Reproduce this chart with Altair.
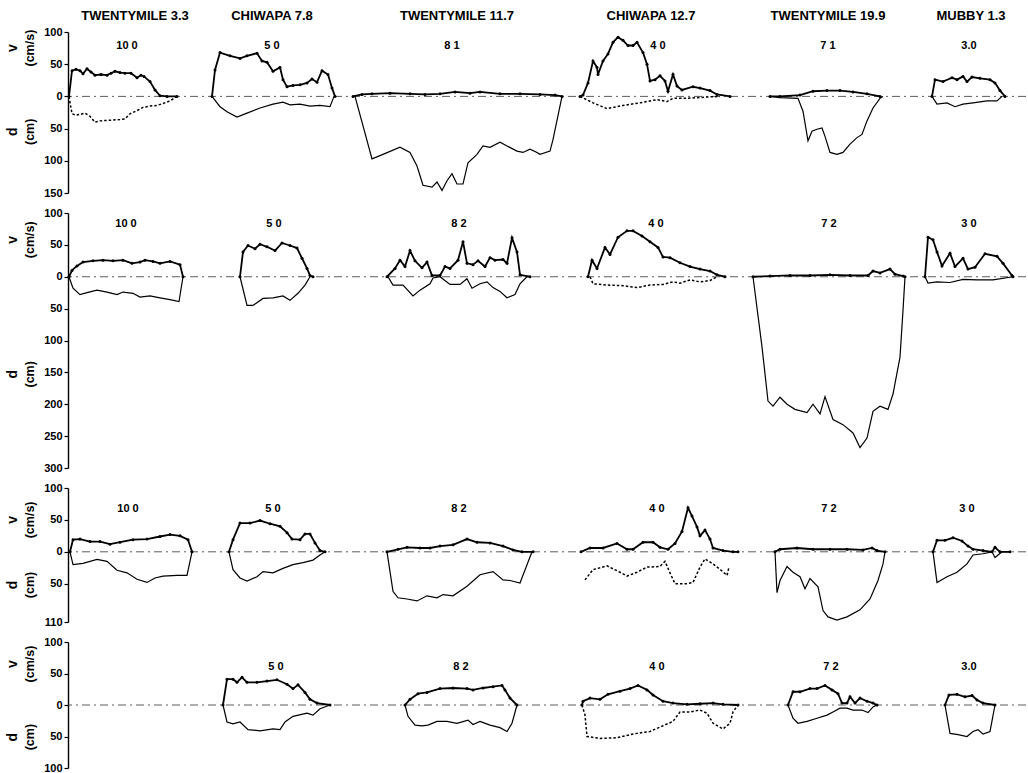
import altair as alt
import pandas as pd

# ---------------- data (x = distance across the figure, v in cm/s, d in cm) ----------------
COLUMN_TITLES = ["TWENTYMILE 3.3", "CHIWAPA 7.8", "TWENTYMILE 11.7", "CHIWAPA 12.7", "TWENTYMILE 19.9", "MUBBY 1.3"]
COLUMN_TITLE_X = [135, 272, 457, 651, 828, 971]

# Row 1
R1_TW33_V = [(69,0),(72,40),(76,42),(80,40),(83,35),(87,43),(91,38),(95,33),(101,34),(107,33),(111,36),(115,39),(120,37),(125,36),(131,36),(137,29),(141,33),(144,31),(150,23),(155,10),(160,1),(167,0),(177,0)]
R1_TW33_D = [(69,0),(72,27),(76,29),(80,28),(85,26),(90,31),(95,40),(100,38),(110,37),(120,36),(125,35),(130,27),(137,22),(143,17),(150,15),(157,14),(163,11),(170,7),(177,0)]
R1_CH78_V = [(212,0),(215,41),(220,68),(230,63),(240,59),(247,63),(257,67),(262,55),(267,53),(273,39),(280,45),(283,26),(287,15),(293,17),(300,18),(307,21),(312,27),(317,22),(322,40),(328,34),(332,13),(335,0)]
R1_CH78_D = [(212,0),(220,16),(227,24),(237,32),(247,26),(260,18),(273,12),(283,9),(290,13),(300,12),(310,15),(320,14),(330,16),(334,0)]
R1_TW117_V = [(353,0),(362,3),(372,4),(390,5),(410,4),(425,3),(440,4),(455,7),(470,5),(480,7),(500,4),(520,4),(540,3),(555,2),(562,0)]
R1_TW117_D = [(355,0),(372,97),(383,90),(400,79),(410,87),(417,108),(423,138),(432,141),(437,133),(442,146),(447,131),(452,120),(457,136),(463,136),(468,103),(477,90),(483,77),(490,79),(500,71),(507,77),(517,85),(523,87),(530,82),(537,87),(540,90),(550,85),(553,67),(562,0)]
R1_CH127_V = [(580,0),(583,2),(588,21),(593,55),(597,45),(598,34),(603,55),(608,66),(613,84),(618,92),(623,87),(628,79),(633,79),(637,84),(643,68),(647,50),(650,24),(655,26),(660,32),(665,24),(668,8),(673,34),(677,16),(682,10),(693,15),(700,13),(710,9),(717,3),(730,0)]
R1_CH127_D = [(580,0),(593,10),(607,19),(623,14),(640,10),(657,5),(667,8),(673,3),(687,3),(707,1),(720,0)]
R1_TW199_V = [(770,0),(780,0),(800,2),(813,8),(827,9),(840,9),(853,7),(867,4),(880,0)]
R1_TW199_D = [(770,0),(780,2),(798,3),(803,23),(808,69),(812,54),(817,51),(822,49),(825,62),(830,87),(837,90),(843,87),(850,74),(857,64),(862,59),(867,38),(873,18),(880,3),(883,0)]
R1_MU13_V = [(932,0),(935,26),(943,23),(952,29),(957,26),(963,31),(967,23),(972,30),(980,28),(990,26),(995,21),(1000,9),(1005,0)]
R1_MU13_D = [(932,0),(937,12),(947,10),(955,16),(963,12),(973,10),(987,7),(997,7),(1002,0)]
R1_LABELS = [(127,"10 0"),(272,"5 0"),(452,"8 1"),(658,"4 0"),(828,"7 1"),(969,"3.0")]

# Row 2
R2_TW33_V = [(69,0),(72,10),(77,17),(83,23),(93,25),(103,26),(113,25),(123,26),(132,21),(140,23),(145,26),(153,24),(160,21),(170,24),(180,19),(183,0)]
R2_TW33_D = [(69,0),(73,18),(80,28),(87,25),(97,21),(107,24),(117,28),(123,24),(133,26),(140,32),(150,30),(160,33),(170,36),(179,39),(183,0)]
R2_CH78_V = [(240,0),(243,39),(248,49),(255,44),(260,51),(267,47),(275,41),(282,53),(290,49),(297,45),(302,29),(307,13),(310,2),(313,0)]
R2_CH78_D = [(240,0),(247,45),(253,45),(263,34),(273,33),(283,30),(290,37),(298,26),(305,13),(310,0)]
R2_TW117_V = [(387,0),(395,13),(400,26),(405,16),(410,41),(415,25),(422,14),(427,23),(432,2),(440,2),(445,16),(450,13),(458,26),(463,55),(467,21),(473,19),(478,25),(485,16),(490,30),(495,26),(503,27),(507,21),(512,61),(517,39),(520,3),(530,0)]
R2_TW117_D = [(388,0),(393,13),(403,13),(413,30),(420,21),(430,11),(433,2),(440,0),(450,12),(460,12),(467,3),(472,18),(480,11),(487,8),(493,17),(500,23),(507,33),(515,28),(520,11),(527,0)]
R2_CH127_V = [(588,0),(592,26),(597,13),(605,46),(610,35),(618,62),(627,72),(633,72),(642,64),(650,55),(658,46),(663,31),(670,30),(680,22),(690,16),(700,12),(710,9),(717,3),(725,0)]
R2_CH127_D = [(590,0),(593,11),(607,13),(623,14),(637,17),(650,13),(663,12),(673,8),(680,10),(690,5),(700,8),(710,6),(717,0)]
R2_TW199_V = [(753,0),(770,1),(790,2),(810,2),(830,3),(850,2),(868,2),(873,9),(880,6),(890,12),(895,4),(903,1),(905,0)]
R2_TW199_D = [(753,0),(762,110),(768,195),(773,203),(780,189),(787,200),(795,208),(807,213),(813,200),(820,215),(825,188),(833,224),(843,232),(853,245),(860,268),(867,253),(873,211),(880,203),(888,208),(893,184),(900,126),(903,53),(905,0)]
R2_MU13_V = [(925,0),(928,62),(933,58),(937,39),(942,17),(950,37),(955,16),(963,29),(968,12),(975,15),(985,36),(997,32),(1003,21),(1012,2),(1013,0)]
R2_MU13_D = [(925,0),(928,10),(937,8),(950,9),(963,4),(977,5),(993,5),(1013,0)]
R2_LABELS = [(126,"10 0"),(274,"5 0"),(459,"8 2"),(656,"4 0"),(829,"7 2"),(969,"3 0")]

# Row 3
R3_TW33_V = [(70,0),(73,19),(80,20),(90,16),(100,16),(110,12),(120,15),(133,19),(147,20),(160,24),(170,27),(180,25),(188,19),(192,0)]
R3_TW33_D = [(70,0),(73,20),(83,18),(97,12),(107,15),(117,29),(127,33),(137,43),(147,48),(155,41),(163,38),(177,37),(187,37),(192,0)]
R3_CH78_V = [(229,0),(233,19),(240,45),(250,45),(260,49),(270,44),(280,40),(287,30),(292,20),(300,19),(305,28),(310,28),(315,14),(320,2),(325,0)]
R3_CH78_D = [(229,0),(233,28),(240,41),(247,46),(257,39),(263,31),(273,33),(283,26),(293,20),(303,17),(313,13),(320,5),(325,0)]
R3_TW117_V = [(387,0),(398,4),(407,7),(420,6),(430,6),(440,9),(453,11),(467,20),(477,15),(490,14),(503,9),(513,3),(522,0),(533,0)]
R3_TW117_D = [(387,0),(393,62),(398,72),(407,74),(417,77),(427,69),(437,72),(443,67),(453,69),(467,54),(480,36),(493,31),(503,44),(510,45),(520,49),(532,0)]
R3_CH127_V = [(581,0),(590,6),(603,6),(617,13),(627,4),(633,4),(643,15),(653,15),(660,7),(668,4),(675,13),(682,32),(688,69),(692,56),(697,39),(700,25),(705,34),(710,20),(713,6),(723,2),(733,0),(738,0)]
R3_CH127_D = [(585,44),(593,28),(607,22),(620,32),(627,38),(637,32),(647,24),(660,23),(665,15),(670,33),(675,50),(687,50),(693,48),(700,24),(705,11),(713,19),(722,30),(727,37),(729,24)]
R3_TW199_V = [(775,0),(780,4),(797,6),(813,4),(830,4),(847,4),(863,3),(872,6),(877,2),(885,0)]
R3_TW199_D = [(775,0),(777,64),(780,45),(787,23),(793,32),(800,39),(805,58),(810,42),(818,55),(823,92),(828,102),(837,107),(847,102),(860,91),(870,74),(878,45),(883,19),(885,0)]
R3_MU13_V = [(933,0),(937,18),(945,18),(953,22),(962,17),(968,9),(973,4),(983,2),(992,0),(995,7),(1000,0),(1010,0)]
R3_MU13_D = [(933,0),(937,48),(947,39),(957,32),(967,19),(973,5),(983,3),(992,0),(995,9),(1002,0)]
R3_LABELS = [(128,"10 0"),(273,"5 0"),(459,"8 2"),(657,"4 0"),(829,"7 2"),(967,"3 0")]

# Row 4 (no Twentymile 3.3 section)
R4_CH78_V = [(223,0),(227,41),(233,41),(237,36),(242,44),(247,36),(257,36),(267,38),(277,40),(287,33),(293,26),(298,32),(305,20),(310,9),(317,3),(330,0)]
R4_CH78_D = [(223,0),(227,27),(233,30),(240,27),(248,39),(260,41),(273,38),(280,39),(285,27),(293,18),(307,13),(313,16),(320,6),(330,0)]
R4_TW117_V = [(405,0),(410,9),(418,18),(427,20),(440,26),(453,27),(467,26),(473,24),(483,27),(493,29),(502,31),(505,24),(510,11),(517,0)]
R4_TW117_D = [(405,0),(408,18),(415,32),(422,33),(428,32),(437,26),(447,26),(457,29),(468,24),(473,31),(480,26),(490,32),(500,36),(507,42),(512,29),(517,0)]
R4_CH127_V = [(582,0),(583,6),(590,11),(600,9),(608,17),(620,22),(630,26),(638,31),(647,24),(653,16),(663,6),(673,3),(687,1),(700,2),(713,3),(723,1),(738,0)]
R4_CH127_D = [(582,0),(585,16),(587,50),(600,53),(617,52),(633,46),(650,42),(663,33),(673,26),(680,11),(690,11),(700,8),(707,13),(713,29),(723,38),(730,29),(733,11),(738,0)]
R4_TW199_V = [(788,0),(793,21),(800,21),(810,26),(817,26),(825,31),(832,24),(838,18),(842,3),(847,3),(850,13),(855,3),(860,11),(867,6),(873,3),(877,0)]
R4_TW199_D = [(788,0),(793,21),(798,29),(807,26),(817,21),(827,16),(833,11),(840,5),(847,5),(853,8),(862,8),(868,12),(873,3),(877,0)]
R4_MU13_V = [(945,0),(949,16),(957,17),(965,13),(972,15),(977,8),(983,3),(995,0)]
R4_MU13_D = [(945,0),(950,45),(958,47),(967,50),(973,42),(978,39),(983,46),(990,42),(995,0)]
R4_LABELS = [(276,"5 0"),(461,"8 2"),(657,"4 0"),(831,"7 2"),(969,"3.0")]

ROW_DOMAINS = [(-150, 100), (-300, 100), (-110, 100), (-100, 100)]
ROW_TICKS = [[100, 50, 0, -50, -100, -150],
             [100, 50, 0, -50, -100, -150, -200, -250, -300],
             [100, 50, 0, -50, -110],
             [100, 50, 0, -50, -100]]
ROW_LABEL_LEVEL = [79, 82, 67, 60]
ROW_VTITLE_LEVEL = [75, 58, 50, 65]
ROW_DTITLE_LEVEL = [-55, -153, -52, -51]
ROW_HEIGHTS = [161, 255, 134, 126]

# (velocity, depth, dotted-depth?)
ROWS = [
    [(R1_TW33_V, R1_TW33_D, True), (R1_CH78_V, R1_CH78_D, False), (R1_TW117_V, R1_TW117_D, False),
     (R1_CH127_V, R1_CH127_D, True), (R1_TW199_V, R1_TW199_D, False), (R1_MU13_V, R1_MU13_D, False)],
    [(R2_TW33_V, R2_TW33_D, False), (R2_CH78_V, R2_CH78_D, False), (R2_TW117_V, R2_TW117_D, False),
     (R2_CH127_V, R2_CH127_D, True), (R2_TW199_V, R2_TW199_D, False), (R2_MU13_V, R2_MU13_D, False)],
    [(R3_TW33_V, R3_TW33_D, False), (R3_CH78_V, R3_CH78_D, False), (R3_TW117_V, R3_TW117_D, False),
     (R3_CH127_V, R3_CH127_D, True), (R3_TW199_V, R3_TW199_D, False), (R3_MU13_V, R3_MU13_D, False)],
    [(R4_CH78_V, R4_CH78_D, False), (R4_TW117_V, R4_TW117_D, False),
     (R4_CH127_V, R4_CH127_D, True), (R4_TW199_V, R4_TW199_D, False), (R4_MU13_V, R4_MU13_D, False)],
]
ROW_LABELS = [R1_LABELS, R2_LABELS, R3_LABELS, R4_LABELS]

FONT = "Liberation Sans"
X_DOMAIN = [68, 1026]
PLOT_W = 958


def make_row(i):
    lo, hi = ROW_DOMAINS[i]
    recs = []
    for s, (v, d, dotted) in enumerate(ROWS[i]):
        for k, (x, y) in enumerate(v):
            recs.append({"sec": s, "kind": "v", "x": x, "y": y, "o": k})
        for k, (x, y) in enumerate(d):
            recs.append({"sec": s, "kind": "dd" if dotted else "d", "x": x, "y": -y, "o": k})
    df = pd.DataFrame(recs)

    def Y():
        return alt.Y("y:Q",
                     scale=alt.Scale(domain=[lo, hi], nice=False, zero=False),
                     axis=alt.Axis(values=ROW_TICKS[i], labelExpr="abs(datum.value)", title=None,
                                   grid=False, domainColor="black", domainWidth=1.4,
                                   tickColor="black", tickSize=4, tickWidth=1.2,
                                   labelFont=FONT, labelFontSize=11, labelFontWeight="bold",
                                   labelColor="black", labelPadding=2))

    X = alt.X("x:Q", scale=alt.Scale(domain=X_DOMAIN, nice=False, zero=False), axis=None)

    zero = alt.Chart(pd.DataFrame({"y": [0]})).mark_rule(
        color="#333", strokeWidth=0.8, strokeDash=[8, 4, 2, 4]).encode(y=Y())

    base = alt.Chart(df)
    vel = base.transform_filter(alt.datum.kind == "v").mark_line(
        color="black", strokeWidth=1.8,
        point=alt.OverlayMarkDef(filled=True, size=9, color="black")).encode(
        x=X, y=Y(), detail="sec:N", order="o:Q")
    dep = base.transform_filter(alt.datum.kind == "d").mark_line(
        color="black", strokeWidth=1.2).encode(x=X, y=Y(), detail="sec:N", order="o:Q")
    dep_dot = base.transform_filter(alt.datum.kind == "dd").mark_line(
        color="black", strokeWidth=1.5, strokeDash=[2.5, 2]).encode(x=X, y=Y(), detail="sec:N", order="o:Q")

    lab_df = pd.DataFrame({"x": [p[0] for p in ROW_LABELS[i]],
                           "t": [p[1] for p in ROW_LABELS[i]],
                           "y": [ROW_LABEL_LEVEL[i]] * len(ROW_LABELS[i])})
    labels = alt.Chart(lab_df).mark_text(font=FONT, fontSize=11, fontWeight="bold", color="black").encode(
        x=X, y=Y(), text="t:N")

    t1 = pd.DataFrame({"y": [ROW_VTITLE_LEVEL[i], ROW_DTITLE_LEVEL[i]], "t": ["v", "d"]})
    t2 = pd.DataFrame({"y": [ROW_VTITLE_LEVEL[i], ROW_DTITLE_LEVEL[i]], "t": ["(cm/s)", "(cm)"]})
    title1 = alt.Chart(t1).mark_text(font=FONT, fontSize=14, fontWeight="bold", angle=270, color="black").encode(
        x=alt.value(-55), y=Y(), text="t:N")
    title2 = alt.Chart(t2).mark_text(font=FONT, fontSize=12.5, fontWeight="bold", angle=270, color="black").encode(
        x=alt.value(-38), y=Y(), text="t:N")

    layers = [zero, dep, dep_dot, vel, labels, title1, title2]
    if i == 0:
        ct = pd.DataFrame({"x": COLUMN_TITLE_X, "t": COLUMN_TITLES})
        coltitles = alt.Chart(ct).mark_text(font=FONT, fontSize=13, fontWeight="bold", color="black").encode(
            x=X, y=alt.value(-16), text="t:N")
        layers.append(coltitles)
    return alt.layer(*layers).properties(width=PLOT_W, height=ROW_HEIGHTS[i])


chart = alt.vconcat(*[make_row(i) for i in range(4)], spacing=20, bounds="flush").properties(
    padding={"left": 6, "right": 0, "top": 10, "bottom": 0},
    background="white",
).configure_view(stroke=None)

chart.save("out.html", embed_options={"renderer": "svg", "actions": False})
